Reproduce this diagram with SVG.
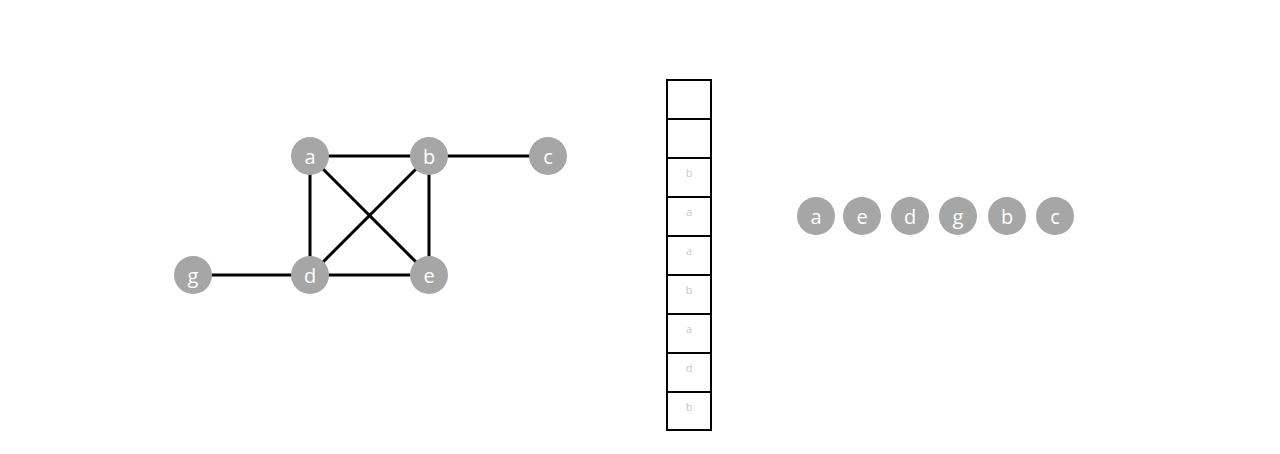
<svg xmlns="http://www.w3.org/2000/svg" width="1280" height="454" viewBox="0 0 1280 454">
<style>
.n{fill:#a6a6a6}
.t{font-family:"Open Sans","Liberation Sans",sans-serif;font-size:20px;fill:#fff;text-anchor:middle;dominant-baseline:central}
.e{stroke:#000;stroke-width:3}
.cell{fill:#fff;stroke:#000;stroke-width:2}
.st{font-family:"Open Sans","Liberation Sans",sans-serif;font-size:11px;fill:#c8c8c8;text-anchor:middle;dominant-baseline:central}
</style>
<rect width="1280" height="454" fill="#fff"/>
<g id="connectors">
<line class="e" x1="310" y1="156" x2="429" y2="156"/>
<line class="e" x1="429" y1="156" x2="548" y2="156"/>
<line class="e" x1="310" y1="156" x2="310" y2="275"/>
<line class="e" x1="310" y1="156" x2="429" y2="275"/>
<line class="e" x1="429" y1="156" x2="310" y2="275"/>
<line class="e" x1="429" y1="156" x2="429" y2="275"/>
<line class="e" x1="310" y1="275" x2="429" y2="275"/>
<line class="e" x1="193" y1="275" x2="310" y2="275"/>
</g>
<g id="node-a"><circle class="n" cx="310" cy="156" r="19"/><text class="t" x="310" y="156">a</text></g>
<g id="node-b"><circle class="n" cx="429" cy="156" r="19"/><text class="t" x="429" y="156">b</text></g>
<g id="node-c"><circle class="n" cx="548" cy="156" r="19"/><text class="t" x="548" y="156">c</text></g>
<g id="node-g"><circle class="n" cx="193" cy="275" r="19"/><text class="t" x="193" y="275">g</text></g>
<g id="node-d"><circle class="n" cx="310" cy="275" r="19"/><text class="t" x="310" y="275">d</text></g>
<g id="node-e"><circle class="n" cx="429" cy="275" r="19"/><text class="t" x="429" y="275">e</text></g>
<g id="stack">
<rect class="cell" x="667" y="80" width="44" height="39"/>
<rect class="cell" x="667" y="119" width="44" height="39"/>
<rect class="cell" x="667" y="158" width="44" height="39"/>
<rect class="cell" x="667" y="197" width="44" height="39"/>
<rect class="cell" x="667" y="236" width="44" height="39"/>
<rect class="cell" x="667" y="275" width="44" height="39"/>
<rect class="cell" x="667" y="314" width="44" height="39"/>
<rect class="cell" x="667" y="353" width="44" height="39"/>
<rect class="cell" x="667" y="392" width="44" height="38"/>
<text class="st" x="689" y="172">b</text>
<text class="st" x="689" y="211">a</text>
<text class="st" x="689" y="250">a</text>
<text class="st" x="689" y="289">b</text>
<text class="st" x="689" y="328">a</text>
<text class="st" x="689" y="367">d</text>
<text class="st" x="689" y="406">b</text>
</g>
<g id="order-a"><circle class="n" cx="816" cy="216" r="19"/><text class="t" x="816" y="216">a</text></g>
<g id="order-e"><circle class="n" cx="862" cy="216" r="19"/><text class="t" x="862" y="216">e</text></g>
<g id="order-d"><circle class="n" cx="910" cy="216" r="19"/><text class="t" x="910" y="216">d</text></g>
<g id="order-g"><circle class="n" cx="958" cy="216" r="19"/><text class="t" x="958" y="216">g</text></g>
<g id="order-b"><circle class="n" cx="1007" cy="216" r="19"/><text class="t" x="1007" y="216">b</text></g>
<g id="order-c"><circle class="n" cx="1055" cy="216" r="19"/><text class="t" x="1055" y="216">c</text></g>
</svg>
